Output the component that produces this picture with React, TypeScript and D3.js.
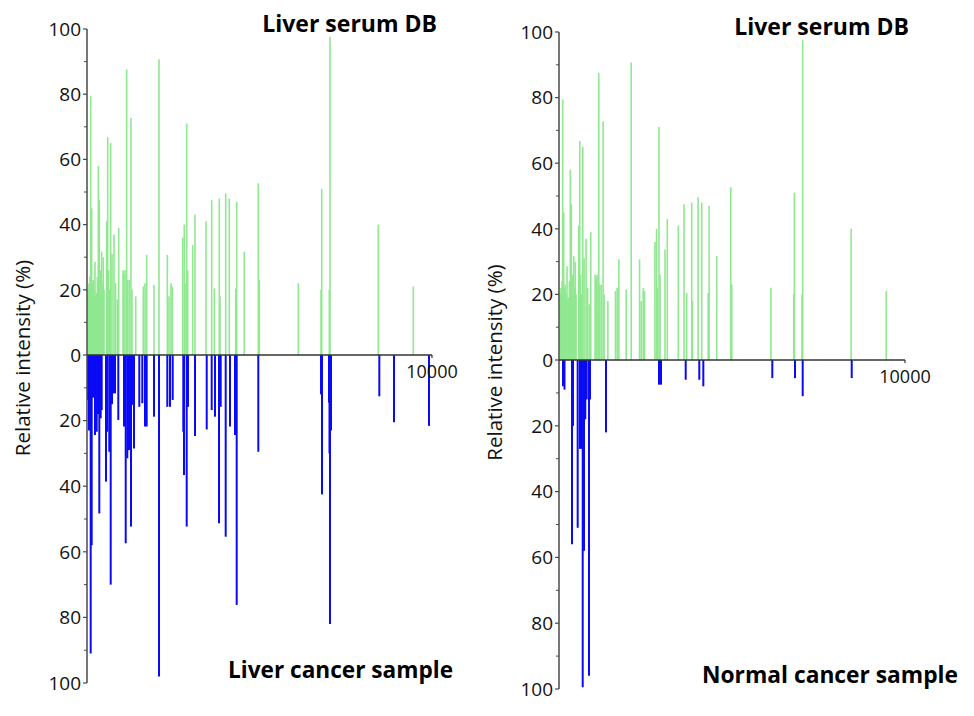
import React from "react";
import * as d3 from "d3";

// Liver serum DB (reference spectrum, plotted upward)
const dbMz = [38, 58, 78, 87, 107, 136, 154, 183, 212, 232, 261, 281, 299, 328, 357, 386, 426, 455, 472, 493, 571, 600, 629, 646, 687, 725, 783, 826, 878, 919, 1043, 1072, 1101, 1150, 1180, 1226, 1275, 1304, 1412, 1632, 1681, 1730, 1942, 2087, 2328, 2377, 2435, 2473, 2774, 2820, 2841, 2890, 2919, 3064, 3130, 3449, 3614, 3690, 3835, 3855, 4020, 4125, 4310, 4339, 4559, 4965, 4994, 6125, 6783, 6803, 7023, 7043, 8443, 9458];
const dbIntensity = [20, 22, 21, 24, 79.5, 45, 22, 23, 20, 28.6, 18, 19, 24, 58, 47.5, 26, 31.7, 22, 30, 20, 41, 66.8, 26, 20, 65, 31, 37, 22, 17, 39, 26, 25, 26, 87.6, 23, 23, 72.8, 20, 18, 21, 22, 30.7, 21.5, 90.7, 30.7, 18, 22, 21, 36, 40, 22, 71, 26, 33.7, 43, 41, 47.5, 20.4, 48, 18, 49.6, 48, 20.4, 47, 31.7, 52.7, 23, 22, 20, 51, 20, 97.6, 40, 21];

// Liver cancer sample (plotted downward)
const liverMz = [29, 58, 72, 107, 136, 174, 232, 281, 319, 357, 397, 426, 551, 588, 646, 687, 725, 762, 812, 907, 1072, 1122, 1168, 1217, 1275, 1325, 1362, 1516, 1603, 1681, 1730, 1942, 2087, 2328, 2406, 2484, 2791, 2812, 2890, 2928, 3130, 3470, 3614, 3710, 3826, 3875, 4020, 4145, 4290, 4339, 4965, 6783, 6812, 7015, 7029, 7043, 7073, 8473, 8899, 9913];
const liverIntensity = [13.7, 23, 13, 91, 58, 13, 24.4, 23.4, 18, 48.3, 19.3, 16.8, 38.6, 23.4, 29.5, 70, 15, 11.7, 11.7, 19.8, 21.8, 57.4, 31.5, 29, 52.3, 15.2, 28.5, 15.8, 14.7, 21.8, 21.8, 18.8, 98, 15.8, 15.8, 13.7, 23.4, 36.6, 52.3, 15.8, 24.7, 22.7, 16.8, 18.8, 51.3, 15.8, 55.4, 21.8, 24.4, 76.2, 29.5, 12, 42.5, 14.5, 30, 82, 23, 12.6, 20.5, 21.6];

// Normal cancer sample (plotted downward)
const normalMz = [116, 159, 376, 405, 540, 607, 636, 685, 723, 760, 800, 867, 896, 1358, 2890, 2948, 3662, 4055, 4171, 6165, 6821, 7043, 8460];
const normalIntensity = [8, 9, 56, 20, 51, 27, 27, 99.5, 58, 18, 12, 96, 12, 22, 7.5, 7.5, 6, 6, 8, 5.5, 5.5, 11, 5.5];

const yTickLabels = ["0", "20", "40", "60", "80", "100"];
const yTickValues = [0, 20, 40, 60, 80, 100];
const yMinorValues = [10, 30, 50, 70, 90];
const xMaxLabel = "10000";
const xMax = 10000;

const FONT = "'Open Sans', 'DejaVu Sans', sans-serif";

type PanelProps = {
  ax: number;
  xEnd: number;
  y0: number;
  yTop: number;
  yBot: number;
  sampleMz: number[];
  sampleInt: number[];
  topTitle: string;
  topTitleX: number;
  topTitleY: number;
  botTitle: string;
  botTitleX: number;
  botTitleY: number;
  botTitleW: number;
  yLabelX: number;
};

function Panel(p: PanelProps) {
  const x = d3.scaleLinear().domain([0, xMax]).range([p.ax, p.xEnd]);
  const yUp = d3.scaleLinear().domain([0, 100]).range([p.y0, p.yTop]);
  const yDown = d3.scaleLinear().domain([0, 100]).range([p.y0, p.yBot]);
  const axisColor = "#4a4a4a";
  return (
    <g>
      {dbMz.map((m, i) => (
        <line key={"g" + i} x1={x(m)} x2={x(m)} y1={yUp(0)} y2={yUp(dbIntensity[i])} stroke="#90e890" strokeWidth={1.6} />
      ))}
      {p.sampleMz.map((m, i) => (
        <line key={"b" + i} x1={x(m)} x2={x(m)} y1={yDown(0)} y2={yDown(p.sampleInt[i])} stroke="#0a0af5" strokeWidth={2} />
      ))}
      <line x1={p.ax} x2={p.ax} y1={p.yTop} y2={p.yBot} stroke={axisColor} strokeWidth={1.5} />
      {yTickValues.map((v, i) => (
        <g key={"t" + i}>
          <line x1={p.ax - 4} x2={p.ax} y1={yUp(v)} y2={yUp(v)} stroke={axisColor} strokeWidth={1.2} />
          <text x={p.ax - 6} y={yUp(v)} dy="0.36em" textAnchor="end" fontSize={19} fontFamily={FONT} fill="#111">{yTickLabels[i]}</text>
          {v > 0 && (
            <>
              <line x1={p.ax - 4} x2={p.ax} y1={yDown(v)} y2={yDown(v)} stroke={axisColor} strokeWidth={1.2} />
              <text x={p.ax - 6} y={yDown(v)} dy="0.36em" textAnchor="end" fontSize={19} fontFamily={FONT} fill="#111">{yTickLabels[i]}</text>
            </>
          )}
        </g>
      ))}
      {yMinorValues.map((v, i) => (
        <g key={"m" + i}>
          <line x1={p.ax - 3} x2={p.ax} y1={yUp(v)} y2={yUp(v)} stroke={axisColor} strokeWidth={1} />
          <line x1={p.ax - 3} x2={p.ax} y1={yDown(v)} y2={yDown(v)} stroke={axisColor} strokeWidth={1} />
        </g>
      ))}
      <line x1={p.ax} x2={p.xEnd} y1={p.y0} y2={p.y0} stroke="#333" strokeWidth={1.5} />
      <line x1={x(xMax)} x2={x(xMax)} y1={p.y0} y2={p.y0 + 3} stroke="#333" strokeWidth={1.2} />
      <text x={x(xMax)} y={p.y0 + 23} textAnchor="middle" fontSize={18} fontFamily={FONT} fill="#111">{xMaxLabel}</text>
      <text transform={`translate(${p.yLabelX},${(p.yTop + p.yBot) / 2 + 2}) rotate(-90)`} textAnchor="middle" dy="0.35em" fontSize={20.5} fontFamily={FONT} fill="#111">Relative intensity (%)</text>
      <text x={p.topTitleX} y={p.topTitleY} textAnchor="end" fontSize={23} fontWeight="bold" fontFamily={FONT} fill="#000">{p.topTitle}</text>
      <text x={p.botTitleX} y={p.botTitleY} textAnchor="start" fontSize={23} fontWeight="bold" fontFamily={FONT} fill="#000" textLength={p.botTitleW} lengthAdjust="spacingAndGlyphs">{p.botTitle}</text>
    </g>
  );
}

export default function App() {
  return (
    <svg width={974} height={716} style={{ position: "absolute", left: 0, top: 0, background: "#fff" }}>
      <rect x={0} y={0} width={974} height={716} fill="#fff" />
      <Panel ax={87} xEnd={432} y0={355} yTop={29} yBot={683} sampleMz={liverMz} sampleInt={liverIntensity}
        topTitle="Liver serum DB" topTitleX={437} topTitleY={32}
        botTitle="Liver cancer sample" botTitleX={228} botTitleY={678} botTitleW={225} yLabelX={23} />
      <Panel ax={559} xEnd={905} y0={360} yTop={32} yBot={689} sampleMz={normalMz} sampleInt={normalIntensity}
        topTitle="Liver serum DB" topTitleX={909} topTitleY={35}
        botTitle="Normal cancer sample" botTitleX={702} botTitleY={683} botTitleW={256} yLabelX={495} />
    </svg>
  );
}
